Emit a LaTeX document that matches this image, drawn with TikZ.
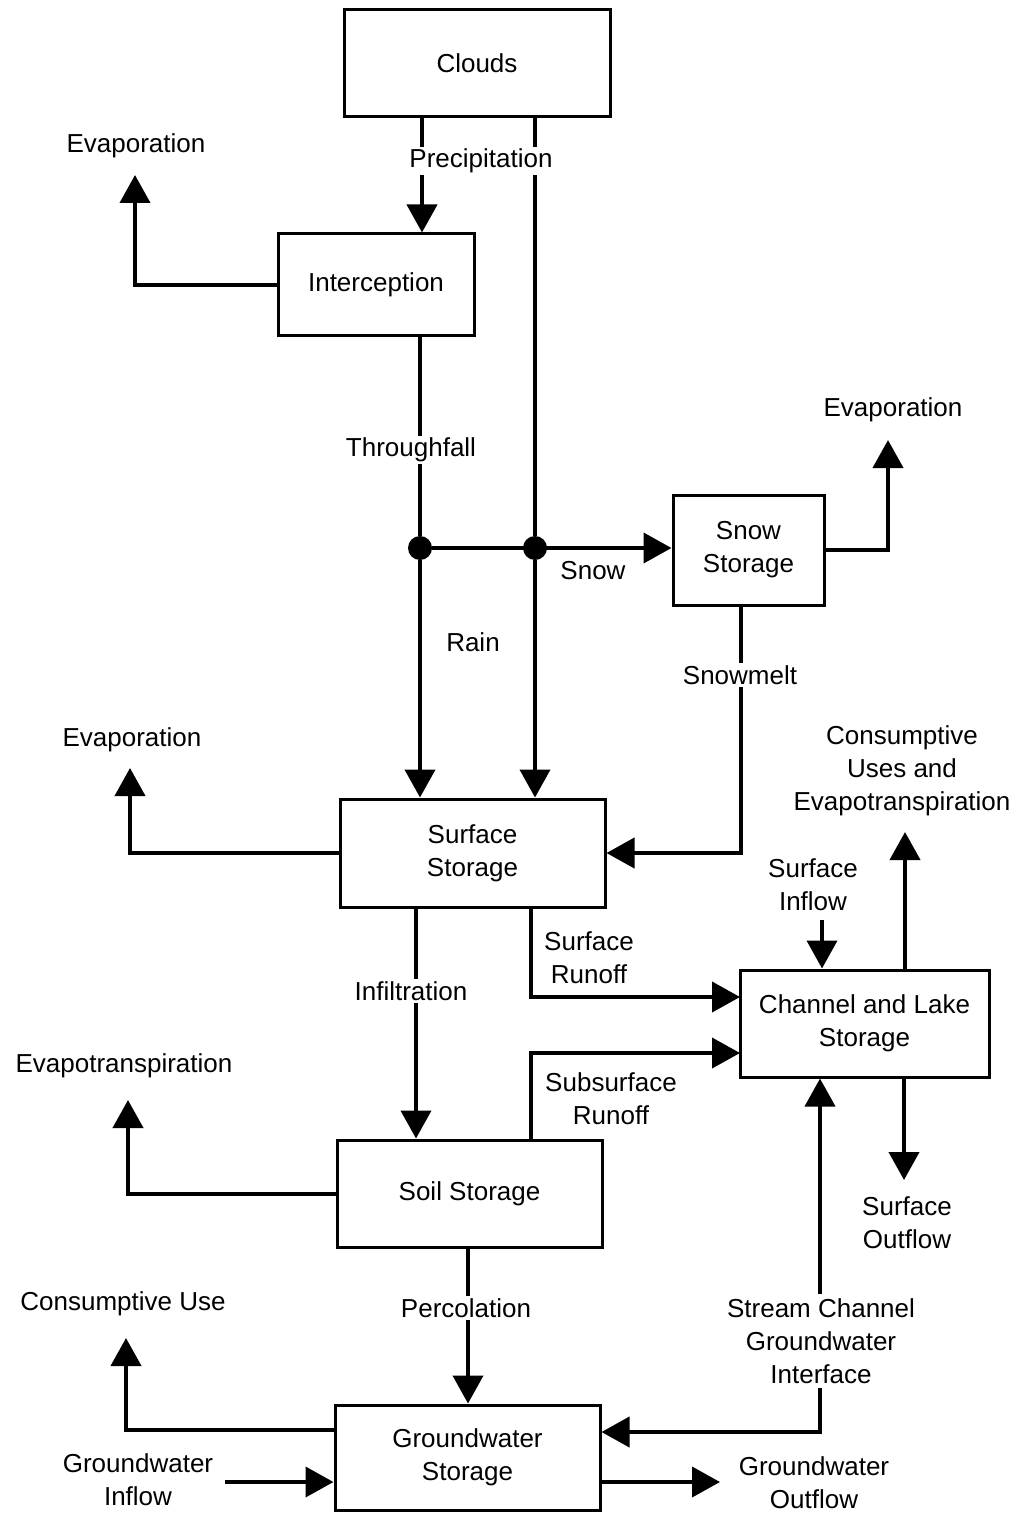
\documentclass[tikz,border=0pt]{standalone}
\usepackage{fontspec}
\setmainfont{Liberation Sans}
\usetikzlibrary{arrows.meta}
\begin{document}
\begin{tikzpicture}[x=0.5pt,y=-0.5pt,
  every node/.style={font=\fontsize{13}{16.5}\selectfont, align=center, inner sep=2pt},
  box/.style={draw, line width=1.5pt, fill=white},
  conn/.style={line width=2pt},
  arr/.style={line width=2pt, -{Triangle[length=14pt,width=15pt]}},
  lbl/.style={fill=white, inner sep=1pt},
  dot/.style={circle, fill=black, minimum size=12pt, inner sep=0pt}]
\useasboundingbox (0,0) rectangle (1021,1514);

% boxes
\node[box, minimum width=133pt, minimum height=53.5pt] (clouds) at (477,63.5) {Clouds};
\node[box, minimum width=98pt, minimum height=50.5pt] (interc) at (376,284.5) {Interception};
\node[box, minimum width=75.5pt, minimum height=55pt] (snow) at (748.5,550) {Snow\\Storage};
\node[box, minimum width=132.5pt, minimum height=54pt] (surf) at (472.5,853) {Surface\\Storage};
\node[box, minimum width=124.5pt, minimum height=53.5pt] (chan) at (864.5,1023.5) {Channel and Lake\\Storage};
\node[box, minimum width=132.5pt, minimum height=53.5pt] (soil) at (469.5,1193.5) {Soil Storage};
\node[box, minimum width=132.5pt, minimum height=52.5pt] (gw) at (467.5,1457.5) {Groundwater\\Storage};

% junction dots
\node[dot] (d1) at (420,548) {};
\node[dot] (d2) at (535,548) {};

% column coordinates and free ends
\coordinate (cA) at (422,0);
\coordinate (cS) at (741,0);
\coordinate (cI) at (416,0);
\coordinate (cR) at (531,0);
\coordinate (cP) at (468,0);
\coordinate (cX) at (820,0);
\coordinate (cO) at (904,0);
\coordinate (cU) at (905,0);
\coordinate (ev1) at (135,175);
\coordinate (ev2) at (888,440);
\coordinate (ev3) at (130,768);
\coordinate (ev4) at (128,1100);
\coordinate (ev5) at (126,1338);
\coordinate (rS) at (740,997);
\coordinate (rSS) at (740,1053);
\coordinate (gin) at (225,1482);
\coordinate (gout) at (720,1482);
\coordinate (sOut) at (904,1180);
\coordinate (cUse) at (905,832);
\coordinate (sin) at (822,920);

% connectors
\draw[arr] (clouds.south -| cA) -- (interc.north -| cA);
\draw[conn] (clouds.south -| d2) -- (d2);
\draw[arr] (d2) -- (surf.north -| d2);
\draw[conn] (interc.south -| d1) -- (d1);
\draw[arr] (d1) -- (surf.north -| d1);
\draw[arr] (d1) -- (snow.west |- d1);
\draw[arr] (snow.east) -| (ev2);
\draw[arr] (snow.south -| cS) |- (surf.east);
\draw[arr] (interc.west) -| (ev1);
\draw[arr] (surf.west) -| (ev3);
\draw[arr] (surf.south -| cI) -- (soil.north -| cI);
\draw[arr] (surf.south -| cR) |- (rS);
\draw[arr] (soil.north -| cR) |- (rSS);
\draw[arr] (soil.west) -| (ev4);
\draw[arr] (soil.south -| cP) -- (gw.north -| cP);
\draw[arr] ([yshift=13.75pt]gw.west) -| (ev5);
\draw[arr] (gin) -- ([yshift=-12.25pt]gw.west);
\draw[arr] ([yshift=-12.25pt]gw.east) -- (gout);
\draw[arr] (chan.south -| cO) -- (sOut);
\draw[arr] (chan.north -| cU) -- (cUse);
\draw[arr] (sin) -- (chan.north -| sin);

% labels on lines
\node[lbl] (prec) at (481,161) {Precipitation};
\node[lbl] (thr) at (411,450) {Throughfall};
\node[lbl] (smelt) at (740,675) {Snowmelt};
\node[lbl] (infl) at (411,991) {Infiltration};
\node[lbl] (perc) at (466,1308) {Percolation};

% stream channel interface
\node (scgi) at (821,1341) {Stream Channel\\Groundwater\\Interface};
\draw[arr] (scgi.north -| cX) -- (chan.south -| cX);
\draw[arr] (scgi.south -| cX) |- ([yshift=12.75pt]gw.east);

% free labels
\node (rain) at (473,642) {Rain};
\node (snowl) at (593,571) {Snow};
\node (e1) at (136,146) {Evaporation};
\node (e2) at (893,410) {Evaporation};
\node (e3) at (132,740) {Evaporation};
\node (e4) at (124,1066) {Evapotranspiration};
\node (e5) at (123,1304) {Consumptive Use};
\node (srun) at (589,958) {Surface\\Runoff};
\node (ssrun) at (611,1099) {Subsurface\\Runoff};
\node (cuse) at (902,771) {Consumptive\\Uses and\\Evapotranspiration};
\node (sinl) at (813,885) {Surface\\Inflow};
\node (soutl) at (907,1223) {Surface\\Outflow};
\node (ginl) at (138,1480) {Groundwater\\Inflow};
\node (goutl) at (814,1483) {Groundwater\\Outflow};
\end{tikzpicture}
\end{document}
